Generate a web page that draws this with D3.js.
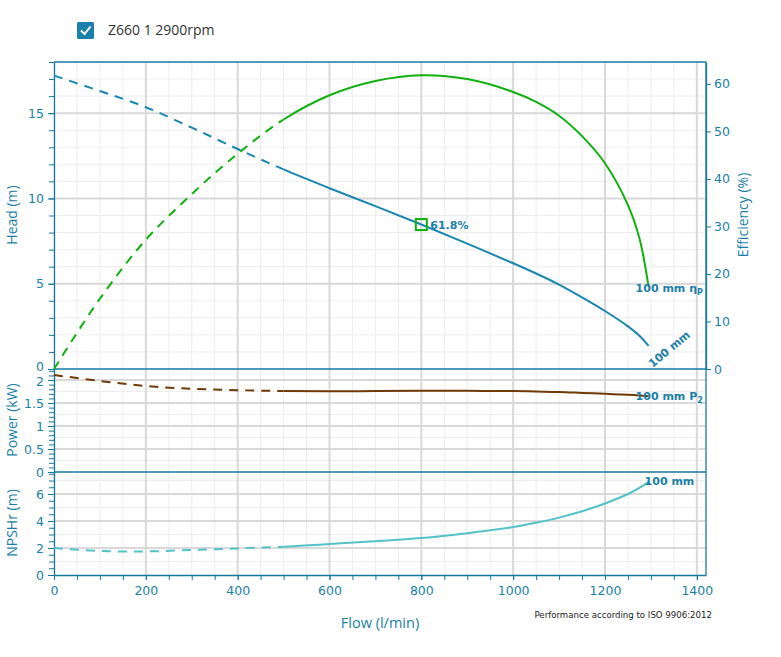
<!DOCTYPE html>
<html><head><meta charset="utf-8">
<script src="https://cdn.jsdelivr.net/npm/d3@7"></script>
<style>
body{margin:0;background:#fff;}
svg{display:block;}
</style></head>
<body>
<script>
// ---- data ----
const flow  = [0,100,200,300,400,500,600,700,800,900,1000,1050,1100,1150,1200,1250,1275,1295];
const head  = [17.2,16.3,15.35,14.15,12.9,11.7,10.6,9.55,8.47,7.35,6.2,5.6,4.95,4.2,3.4,2.5,1.95,1.35];
const eff   = [0,14.8,27.2,36.8,45.3,52.5,57.6,60.6,61.8,61.0,58.3,56.2,53.3,49.0,43.3,34.5,27.5,17.3];
const power = [2.11,1.98,1.87,1.81,1.78,1.76,1.755,1.76,1.765,1.765,1.76,1.75,1.74,1.72,1.70,1.68,1.665,1.65];
const npsh  = [2.0,1.78,1.75,1.85,1.97,2.1,2.3,2.5,2.74,3.1,3.55,3.87,4.25,4.72,5.3,6.0,6.45,6.9];
const dashEnd = 500;
const opFlow = 800, opHead = 8.47, opEffLabel = "61.8%";
const xTicks = [0,200,400,600,800,1000,1200,1400];
const headTicks = [0,5,10,15];
const effTicks = [0,10,20,30,40,50,60];
const powerTicks = [0,0.5,1,1.5,2];
const npshTicks = [0,2,4,6];
const legendLabel = "Z660 1 2900rpm";
const curveLabel = "100 mm";

const W=781,H=657;
const teal="#1b7fa8", axisCol="#17789f", grid="#d9d9d9", minor="#eeeeee";
const svg=d3.select("body").append("svg").attr("width",W).attr("height",H);

const x=d3.scaleLinear().domain([0,1420]).range([54,706]);
const yH=d3.scaleLinear().domain([0,18]).range([369,62]);
const yE=d3.scaleLinear().domain([0,64.6]).range([369,62]);
const yP=d3.scaleLinear().domain([0,2.24]).range([472,369]);
const yN=d3.scaleLinear().domain([0,7.63]).range([575,472]);

const L=54,R=706;
const fmt=d=>String(d);
const vMinor=d3.range(0,1420,50);
const panels=[[62,369],[369,472],[472,575]];
panels.forEach(([t,b])=>{
  svg.append("g").selectAll("line").data(vMinor).join("line")
   .attr("x1",d=>x(d)).attr("x2",d=>x(d)).attr("y1",t).attr("y2",b)
   .attr("stroke",minor).attr("stroke-width",1);
});
function hgrid(scale,vals,col,w){
  svg.append("g").selectAll("line").data(vals).join("line")
   .attr("x1",L).attr("x2",R).attr("y1",d=>scale(d)).attr("y2",d=>scale(d))
   .attr("stroke",col).attr("stroke-width",w);
}
hgrid(yH,d3.range(1,18,1),minor,1);
hgrid(yP,d3.range(0.25,2.24,0.25),minor,1);
hgrid(yN,d3.range(1,7.63,1),minor,1);
panels.forEach(([t,b])=>{
  svg.append("g").selectAll("line").data(xTicks.slice(1)).join("line")
   .attr("x1",d=>x(d)).attr("x2",d=>x(d)).attr("y1",t).attr("y2",b)
   .attr("stroke",grid).attr("stroke-width",2);
});
hgrid(yH,headTicks.slice(1),grid,2);
hgrid(yP,powerTicks.slice(1),grid,2);
hgrid(yN,npshTicks.slice(1),grid,2);

// axes
const tickFont="DejaVu Sans";
function styleAxis(g){
  g.selectAll("path").attr("stroke",axisCol).attr("stroke-width",1.3);
  g.selectAll("line").attr("stroke",axisCol);
  g.selectAll("text").attr("fill",teal).attr("font-family",tickFont).attr("font-size",12.5);
}
function leftAxis(scale,major,minorStep){
  const dom=scale.domain();
  const mn=d3.range(0,dom[1]+1e-9,minorStep);
  svg.append("g").attr("transform",`translate(${L},0)`)
    .call(d3.axisLeft(scale).tickValues(mn).tickFormat("").tickSize(5).tickSizeOuter(0))
    .call(styleAxis);
  return svg.append("g").attr("transform",`translate(${L},0)`)
    .call(d3.axisLeft(scale).tickValues(major).tickFormat(fmt).tickSize(6).tickSizeOuter(0).tickPadding(4))
    .call(styleAxis).call(g=>g.select("path").remove());
}
const gH=leftAxis(yH,headTicks,1);
const gP=leftAxis(yP,powerTicks,0.1);
leftAxis(yN,npshTicks,0.5);
gH.selectAll(".tick text").filter(d=>d===0).attr("dy","0.15em");
gP.selectAll(".tick text").filter(d=>d===2).attr("dy","0.45em");

svg.append("g").attr("transform",`translate(${R},0)`)
  .call(d3.axisRight(yE).tickValues(effTicks).tickFormat(fmt).tickSize(5).tickSizeOuter(0).tickPadding(3))
  .call(styleAxis);
svg.append("line").attr("x1",R).attr("x2",R).attr("y1",62).attr("y2",575).attr("stroke",axisCol).attr("stroke-width",1.3);
svg.append("g").attr("transform","translate(0,575)")
  .call(d3.axisBottom(x).tickValues(d3.range(0,1420,50)).tickFormat("").tickSize(5).tickSizeOuter(0))
  .call(styleAxis);
svg.append("g").attr("transform","translate(0,575)")
  .call(d3.axisBottom(x).tickValues(xTicks).tickFormat(fmt).tickSize(5).tickSizeOuter(0).tickPadding(6))
  .call(styleAxis).call(g=>g.select("path").remove());
[62,369,472].forEach(yy=>svg.append("line").attr("x1",L).attr("x2",R).attr("y1",yy).attr("y2",yy).attr("stroke",axisCol).attr("stroke-width",1.3));

// axis titles
const titleFont="'Open Sans', sans-serif";
function vtitle(t,cx,cy,rot){
  svg.append("text").attr("transform",`translate(${cx},${cy}) rotate(${rot})`)
   .attr("text-anchor","middle").attr("fill",teal).attr("font-family",titleFont).attr("font-size",14).text(t);
}
vtitle("Head (m)",17,215,-90);
vtitle("Power (kW)",17,420,-90);
vtitle("NPSHr (m)",17,523,-90);
vtitle("Efficiency (%)",748,215,-90);
svg.append("text").attr("x",380).attr("y",628).attr("text-anchor","middle").attr("fill",teal)
  .attr("font-family",titleFont).attr("font-size",14.5).text("Flow (l/min)");
svg.append("text").attr("x",712).attr("y",618).attr("text-anchor","end").attr("fill","#222")
  .attr("font-family","DejaVu Sans").attr("font-size",8.6).text("Performance according to ISO 9906:2012");

const defs=svg.append("defs");
defs.append("clipPath").attr("id","cDash").append("rect").attr("x",0).attr("y",0).attr("width",x(dashEnd)).attr("height",H);
defs.append("clipPath").attr("id","cSolid").append("rect").attr("x",x(dashEnd)).attr("y",0).attr("width",W).attr("height",H);

function drawCurve(vals,scale,color,w){
  const pts=flow.map((f,i)=>[f,vals[i]]);
  const ln=d3.line().x(d=>x(d[0])).y(d=>scale(d[1])).curve(d3.curveCatmullRom.alpha(0.5));
  const dStr=ln(pts);
  svg.append("path").attr("d",dStr).attr("fill","none").attr("stroke",color).attr("stroke-width",w)
    .attr("stroke-dasharray","9,7").attr("clip-path","url(#cDash)");
  svg.append("path").attr("d",dStr).attr("fill","none").attr("stroke",color).attr("stroke-width",w)
    .attr("clip-path","url(#cSolid)");
}
drawCurve(head,yH,"#1a87b2",2);
drawCurve(eff,yE,"#10b010",2);
drawCurve(power,yP,"#6e3a06",2);
drawCurve(npsh,yN,"#52c2c8",2);

svg.append("rect").attr("x",x(opFlow)-5.5).attr("y",yH(opHead)-5.5).attr("width",11).attr("height",11)
  .attr("fill","none").attr("stroke","#10b010").attr("stroke-width",2);
const lblFont="DejaVu Sans";
svg.append("text").attr("x",x(opFlow)+9).attr("y",yH(opHead)+4).attr("fill",teal).attr("font-weight","bold")
  .attr("font-family",lblFont).attr("font-size",11).text(opEffLabel);

const last=flow.length-1;
const effLbl=svg.append("text").attr("x",x(flow[last])-13).attr("y",yE(eff[last])+5).attr("fill",teal)
  .attr("font-weight","bold").attr("font-family",lblFont).attr("font-size",11);
effLbl.append("tspan").text(curveLabel+"  η");
effLbl.append("tspan").attr("font-size",8).attr("dy",3).text("P");
const pLbl=svg.append("text").attr("x",x(flow[last])-13).attr("y",yP(power[last])+4).attr("fill",teal)
  .attr("font-weight","bold").attr("font-family",lblFont).attr("font-size",11);
pLbl.append("tspan").text(curveLabel+"  P");
pLbl.append("tspan").attr("font-size",8).attr("dy",3).text("2");
svg.append("text").attr("transform",`translate(${x(flow[last])+4},${yH(head[last])+22}) rotate(-40)`)
  .attr("fill",teal).attr("font-weight","bold").attr("font-family",lblFont).attr("font-size",11).text(curveLabel);
svg.append("text").attr("x",x(flow[last])-4).attr("y",yN(npsh[last])+3).attr("fill",teal)
  .attr("font-weight","bold").attr("font-family",lblFont).attr("font-size",11).text(curveLabel);

svg.append("rect").attr("x",77).attr("y",22).attr("width",17).attr("height",17).attr("rx",1.5).attr("fill","#1a7fad");
svg.append("path").attr("d","M81,30.5 L84.5,34 L90.5,26.5").attr("fill","none").attr("stroke","#fff").attr("stroke-width",2);
svg.append("text").attr("x",108).attr("y",35).attr("fill","#333").attr("font-family","'Open Sans', sans-serif")
  .attr("font-size",14).text(legendLabel);
</script>
</body></html>
